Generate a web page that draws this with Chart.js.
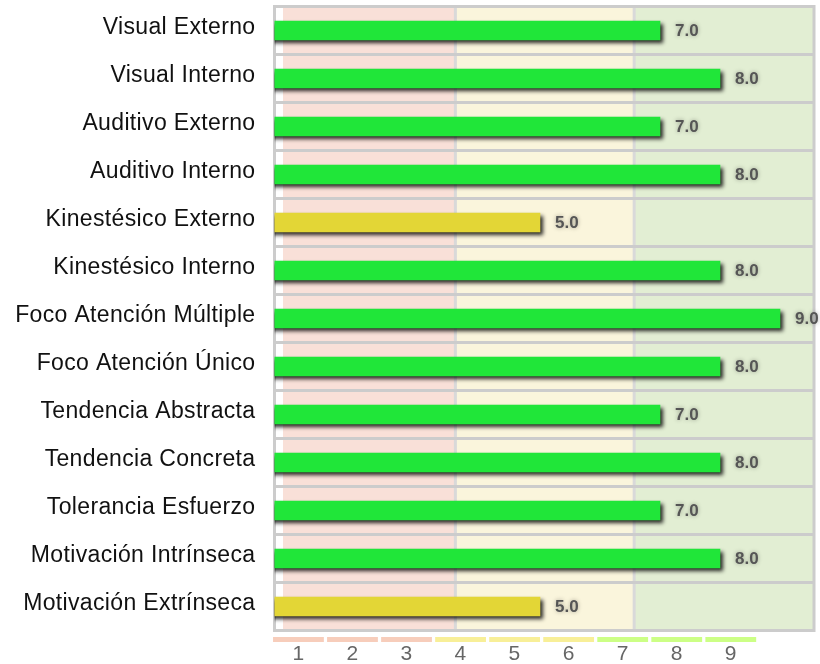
<!DOCTYPE html>
<html>
<head>
<meta charset="utf-8">
<script src="https://cdn.jsdelivr.net/npm/chart.js@4"></script>
<style>
  html, body { margin: 0; padding: 0; background: #fff; }
  canvas { display: block; }
</style>
</head>
<body>
<canvas id="chart" width="820" height="664"></canvas>
<script>
const categories = [
  "Visual Externo",
  "Visual Interno",
  "Auditivo Externo",
  "Auditivo Interno",
  "Kinestésico Externo",
  "Kinestésico Interno",
  "Foco Atención Múltiple",
  "Foco Atención Único",
  "Tendencia Abstracta",
  "Tendencia Concreta",
  "Tolerancia Esfuerzo",
  "Motivación Intrínseca",
  "Motivación Extrínseca"
];
const scores = [7, 8, 7, 8, 5, 8, 9, 8, 7, 8, 7, 8, 5];
const barColors = [
  "#20e639", "#20e639", "#20e639", "#20e639", "#e3d636", "#20e639", "#20e639",
  "#20e639", "#20e639", "#20e639", "#20e639", "#20e639", "#e3d636"
];
const scaleTicks = [1, 2, 3, 4, 5, 6, 7, 8, 9];
const stripColors = [
  "#f7cdbb", "#f7cdbb", "#f7cdbb",
  "#f8ef98", "#f8ef98", "#f8ef98",
  "#ccff86", "#ccff86", "#ccff86"
];
// zone limits on the bar scale
const zoneEdges = [0.717, 3.59, 6.57, 9.6];
const zoneColors = ["#f9e0d8", "#faf5dc", "#e2eed3"];

const fontFamily = '"Liberation Sans", Arial, Helvetica, sans-serif';

const zonesPlugin = {
  id: "zones",
  beforeDraw(chart) {
    const { ctx, chartArea: a } = chart;
    const x = chart.scales.x;
    ctx.save();
    ctx.fillStyle = "#fff";
    ctx.fillRect(0, 0, chart.width, chart.height);
    for (let i = 0; i < zoneColors.length; i++) {
      const x0 = x.getPixelForValue(zoneEdges[i]);
      const x1 = Math.min(x.getPixelForValue(zoneEdges[i + 1]), a.right);
      ctx.fillStyle = zoneColors[i];
      ctx.fillRect(x0, a.top, x1 - x0, a.bottom - a.top);
    }
    ctx.strokeStyle = "#d9d9d9";
    ctx.lineWidth = 3;
    zoneEdges.slice(1, -1).forEach((v) => {
      const px = x.getPixelForValue(v);
      ctx.beginPath();
      ctx.moveTo(px, a.top);
      ctx.lineTo(px, a.bottom);
      ctx.stroke();
    });
    // right side of the frame
    ctx.strokeStyle = "#cccccc";
    ctx.beginPath();
    ctx.moveTo(a.right, a.top - 1.5);
    ctx.lineTo(a.right, a.bottom + 1.5);
    ctx.stroke();
    ctx.restore();
    ctx.letterSpacing = "0.35px";
  },
  beforeDatasetsDraw(chart) {
    const ctx = chart.ctx;
    ctx.save();
    ctx.shadowColor = "rgba(0,0,0,0.85)";
    ctx.shadowOffsetX = 3;
    ctx.shadowOffsetY = 3;
    ctx.shadowBlur = 4;
  },
  afterDatasetsDraw(chart) {
    const ctx = chart.ctx;
    ctx.restore();
    const meta = chart.getDatasetMeta(0);
    ctx.save();
    ctx.letterSpacing = "0px";
    ctx.font = "bold 17px " + fontFamily;
    ctx.fillStyle = "#555";
    ctx.textBaseline = "middle";
    ctx.shadowColor = "rgba(0,0,0,0.35)";
    ctx.shadowBlur = 4;
    meta.data.forEach((bar, i) => {
      ctx.fillText(scores[i].toFixed(1), bar.x + 15, bar.y + 1);
    });
    ctx.restore();
  },
  afterDraw(chart) {
    const ctx = chart.ctx;
    const s = chart.scales.x2;
    ctx.save();
    scaleTicks.forEach((v, i) => {
      const x0 = s.getPixelForValue(v - 0.47);
      const x1 = s.getPixelForValue(v + 0.47);
      ctx.fillStyle = stripColors[i];
      ctx.fillRect(x0, s.top + 6.5, x1 - x0, 5);
    });
    ctx.restore();
    ctx.letterSpacing = "0px";
  }
};

new Chart(document.getElementById("chart").getContext("2d"), {
  type: "bar",
  data: {
    labels: categories,
    datasets: [{
      data: scores,
      backgroundColor: barColors,
      barThickness: 19,
      borderWidth: 0
    }]
  },
  options: {
    responsive: false,
    devicePixelRatio: 1,
    animation: false,
    indexAxis: "y",
    layout: { padding: { top: 6.5, right: 6, bottom: 0, left: 0 } },
    plugins: {
      legend: { display: false },
      tooltip: { enabled: false }
    },
    scales: {
      x: { display: false, min: 0.575, max: 9.567 },
      x2: {
        type: "linear",
        position: "bottom",
        min: 0.557,
        max: 10.54,
        grid: { display: false },
        border: { display: false },
        afterBuildTicks: (s) => { s.ticks = scaleTicks.map((v) => ({ value: v })); },
        afterFit: (s) => { s.height = 33.5; s.paddingLeft = 0; s.paddingRight = 0; },
        ticks: { padding: 3, color: "#666", font: { size: 21, family: fontFamily } }
      },
      y: {
        afterFit: (s) => { s.width = 274.5; s.paddingTop = 0; s.paddingBottom = 0; },
        grid: { color: "#cccccc", lineWidth: 3, drawTicks: false, offset: true },
        border: { color: "#cccccc", width: 3 },
        ticks: { padding: 19, color: "#111", labelOffset: -3, font: { size: 23, family: fontFamily } }
      }
    }
  },
  plugins: [zonesPlugin]
});
</script>
</body>
</html>
